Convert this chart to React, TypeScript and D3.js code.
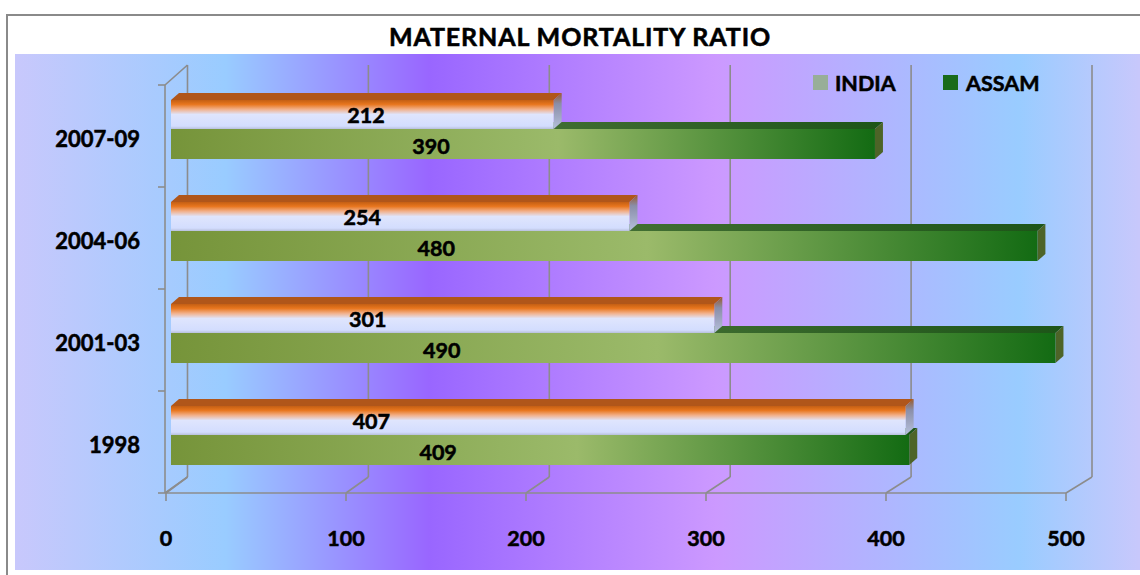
import React from "react";
import * as d3 from "d3";

const categories = ["2007-09", "2004-06", "2001-03", "1998"];
const indiaValues = [212, 254, 301, 407];
const assamValues = [390, 480, 490, 409];
const indiaLabelAt = [108, 106, 109, 111];
const assamLabelAt = [144, 147, 150, 148];
const xTicks = [0, 100, 200, 300, 400, 500];
const seriesNames = ["INDIA", "ASSAM"];
const title = "MATERNAL MORTALITY RATIO";

const W = 1140;
const H = 575;
const FONT = "Lato, 'Open Sans', 'Liberation Sans', sans-serif";

const textStyle = {
  fontWeight: 700,
  fill: "#000",
  stroke: "#000",
  strokeWidth: 0.55,
} as const;

export default function App() {
  const yBand = d3.scaleBand<string>().domain(categories).range([85, 493]);
  const xFront = d3.scaleLinear().domain([0, 500]).range([166, 1066]);
  const xBack = d3.scaleLinear().domain([0, 500]).range([187.5, 1092]);
  const xBar = d3.scaleLinear().domain([0, 500]).range([171, 1073.5]);
  const backTop = 65;
  const backBottom = 477;
  const frontTop = 85;
  const frontBottom = 493;
  const dx = 8;
  const dy = 7;
  const grid = "#8c8c8c";

  const bandEdges = [...categories.map((c) => yBand(c)!), frontBottom];

  return (
    <svg
      width={W}
      height={H}
      style={{ position: "absolute", left: 0, top: 0 }}
      fontFamily={FONT}
    >
      <defs>
        <linearGradient id="bg" x1="15" x2="1140" y1="0" y2="0" gradientUnits="userSpaceOnUse">
          <stop offset="0" stopColor="#c8c8fc" />
          <stop offset="0.187" stopColor="#99ccff" />
          <stop offset="0.368" stopColor="#9966ff" />
          <stop offset="0.623" stopColor="#cc99ff" />
          <stop offset="0.892" stopColor="#99ccff" />
          <stop offset="1" stopColor="#c8c8fc" />
        </linearGradient>
        <linearGradient id="indiaFront" x1="0" x2="0" y1="0" y2="1">
          <stop offset="0" stopColor="#c45f14" />
          <stop offset="0.15" stopColor="#e8761e" />
          <stop offset="0.32" stopColor="#f2b08a" />
          <stop offset="0.5" stopColor="#dfe5fd" />
          <stop offset="0.9" stopColor="#d3ddfe" />
          <stop offset="1" stopColor="#b8c0dc" />
        </linearGradient>
        <linearGradient id="indiaSide" x1="0" x2="0" y1="0" y2="1">
          <stop offset="0" stopColor="#9a5a2a" />
          <stop offset="0.3" stopColor="#8a8ea8" />
          <stop offset="1" stopColor="#b5c0dc" />
        </linearGradient>
        <linearGradient id="assamFront" x1="0" x2="1" y1="0" y2="0">
          <stop offset="0" stopColor="#76943a" />
          <stop offset="0.55" stopColor="#9bba6a" />
          <stop offset="1" stopColor="#136b13" />
        </linearGradient>
        <linearGradient id="assamTop" x1="0" x2="1" y1="0" y2="0">
          <stop offset="0" stopColor="#6a8a50" />
          <stop offset="1" stopColor="#1d5518" />
        </linearGradient>
      </defs>

      {/* outer frame */}
      <rect x={7} y={15} width={1145} height={570} fill="#ffffff" stroke="#8a8a8a" strokeWidth={2} />
      {/* plot background */}
      <rect x={15} y={54} width={1125} height={516} fill="url(#bg)" />

      {/* title */}
      <text x={580} y={46} textAnchor="middle" fontSize={25} letterSpacing={0.9} style={textStyle}>
        {title}
      </text>

      {/* walls */}
      <g stroke={grid} strokeWidth={1.6} fill="none">
        <line x1={xFront(0) - 1} x2={xFront(0) - 1} y1={frontTop} y2={frontBottom} />
        <line x1={xFront(0) - 1} x2={xBack(0)} y1={frontTop} y2={backTop} />
        <line x1={xFront(0) - 1} x2={xBack(0)} y1={frontBottom} y2={backBottom} />
        {bandEdges.map((y, i) => (
          <line key={"lt" + i} x1={xFront(0) - 8} x2={xFront(0) - 1} y1={y} y2={y} />
        ))}
        {xTicks.map((t) => (
          <g key={"g" + t}>
            <line x1={xBack(t)} x2={xBack(t)} y1={backTop} y2={backBottom} />
            <line x1={xFront(t)} x2={xBack(t)} y1={frontBottom} y2={backBottom} />
            <line x1={xFront(t)} x2={xFront(t)} y1={frontBottom} y2={frontBottom + 8} />
          </g>
        ))}
        <line x1={xFront(0) - 1} x2={xFront(500)} y1={frontBottom} y2={frontBottom} />
      </g>

      {/* bars */}
      {categories.map((c, i) => {
        const top = yBand(c)!;
        const x0 = xBar(0);
        const xa = xBar(assamValues[i]);
        const xi = xBar(indiaValues[i]);
        const aTop = top + 44;
        const aBot = top + 74;
        const iTop = top + 15;
        const iBot = top + 44;
        return (
          <g key={c}>
            {/* ASSAM */}
            <polygon
              points={`${x0},${aTop} ${xa},${aTop} ${xa + dx},${aTop - dy} ${x0 + dx},${aTop - dy}`}
              fill="url(#assamTop)"
            />
            <polygon
              points={`${xa},${aTop} ${xa + dx},${aTop - dy} ${xa + dx},${aBot - dy} ${xa},${aBot}`}
              fill="#4d6428"
            />
            <rect x={x0} y={aTop} width={xa - x0} height={aBot - aTop} fill="url(#assamFront)" />
            {/* INDIA */}
            <polygon
              points={`${x0},${iTop} ${xi},${iTop} ${xi + dx},${iTop - dy} ${x0 + dx},${iTop - dy}`}
              fill="#b0561a"
            />
            <polygon
              points={`${xi},${iTop} ${xi + dx},${iTop - dy} ${xi + dx},${iBot - dy} ${xi},${iBot}`}
              fill="url(#indiaSide)"
            />
            <rect x={x0} y={iTop} width={xi - x0} height={iBot - iTop} fill="url(#indiaFront)" />
            {/* labels */}
            <text x={xBar(indiaLabelAt[i])} y={top + 38} textAnchor="middle" fontSize={21.5} style={textStyle}>
              {indiaValues[i]}
            </text>
            <text x={xBar(assamLabelAt[i])} y={top + 69} textAnchor="middle" fontSize={21.5} style={textStyle}>
              {assamValues[i]}
            </text>
            {/* category label */}
            <text x={140} y={top + 62} textAnchor="end" fontSize={22} style={textStyle}>
              {c}
            </text>
          </g>
        );
      })}

      {/* x-axis labels */}
      {xTicks.map((t) => (
        <text key={"xl" + t} x={xFront(t)} y={546} textAnchor="middle" fontSize={21.5} style={textStyle}>
          {t}
        </text>
      ))}

      {/* legend */}
      <g>
        <rect x={813} y={75} width={15} height={15} fill="#98ae98" />
        <text x={835} y={91} fontSize={21.5} style={textStyle}>
          {seriesNames[0]}
        </text>
        <rect x={943} y={75} width={15} height={15} fill="#1a6b1a" />
        <text x={966} y={91} fontSize={21.5} style={textStyle}>
          {seriesNames[1]}
        </text>
      </g>
    </svg>
  );
}
